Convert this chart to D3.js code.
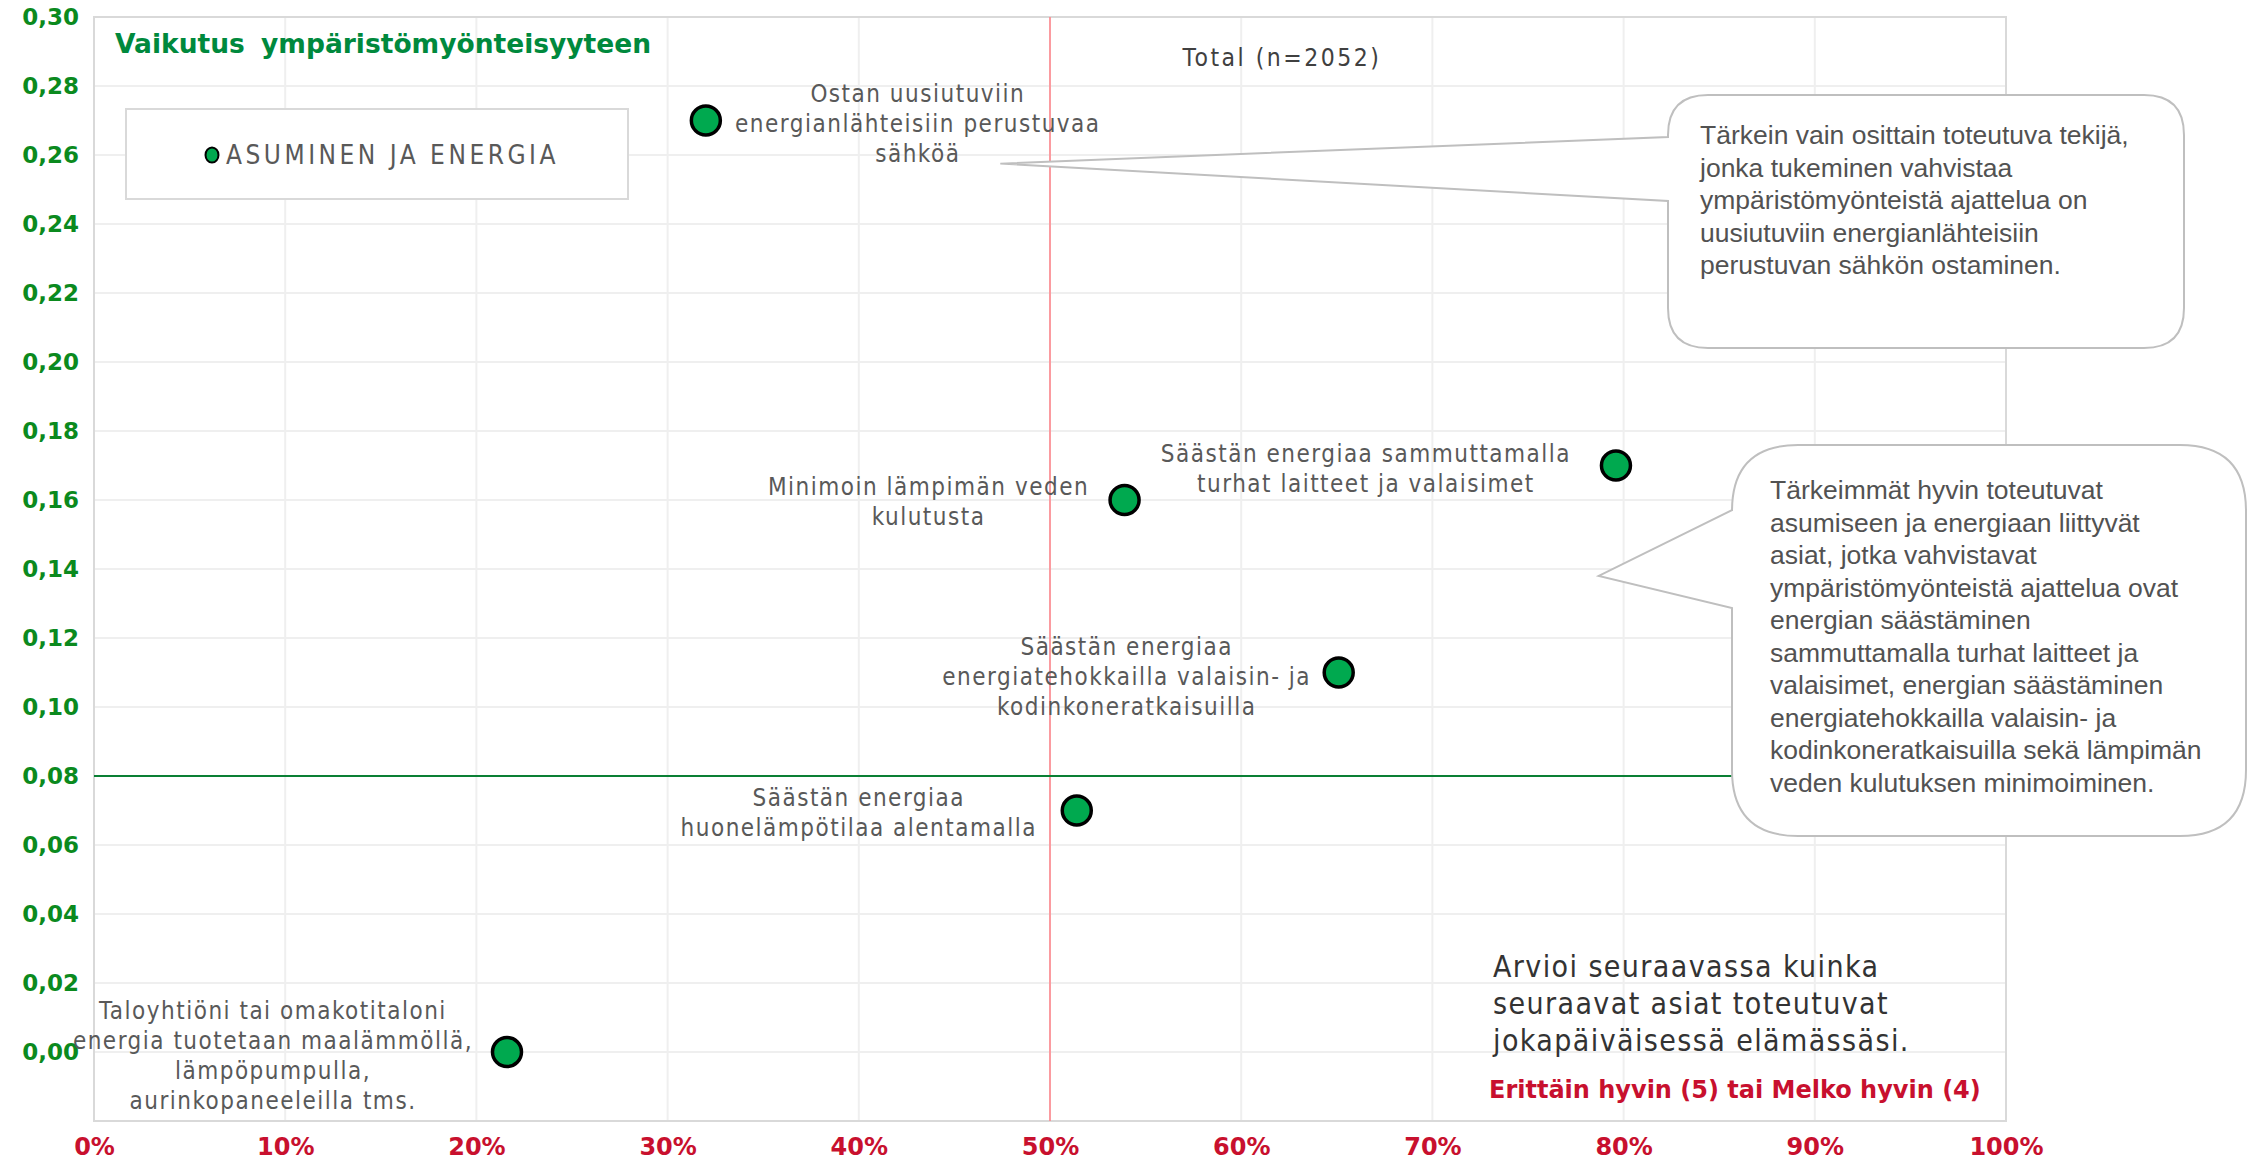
<!DOCTYPE html>
<html>
<head>
<meta charset="utf-8">
<script src="https://cdn.jsdelivr.net/npm/d3@7"></script>
<style>
  body { margin: 0; background: #fff; }
  svg { display: block; }
</style>
</head>
<body>
<div id="chart"></div>
<script>
// data
const itemLabels = [
  ["Ostan uusiutuviin", "energianlähteisiin perustuvaa", "sähköä"],
  ["Säästän energiaa sammuttamalla", "turhat laitteet ja valaisimet"],
  ["Minimoin lämpimän veden", "kulutusta"],
  ["Säästän energiaa", "energiatehokkailla valaisin- ja", "kodinkoneratkaisuilla"],
  ["Säästän energiaa", "huonelämpötilaa alentamalla"],
  ["Taloyhtiöni tai omakotitaloni", "energia tuotetaan maalämmöllä,", "lämpöpumpulla,", "aurinkopaneeleilla tms."]
]
const toteutuu = [0.32, 0.796, 0.539, 0.651, 0.514, 0.216]
const vaikutus = [0.27, 0.17, 0.16, 0.11, 0.07, 0.00]

const xTicks = [0, 0.1, 0.2, 0.3, 0.4, 0.5, 0.6, 0.7, 0.8, 0.9, 1]
const xTickLabels = ["0%", "10%", "20%", "30%", "40%", "50%", "60%", "70%", "80%", "90%", "100%"]
const yTicks = [0.30, 0.28, 0.26, 0.24, 0.22, 0.20, 0.18, 0.16, 0.14, 0.12, 0.10, 0.08, 0.06, 0.04, 0.02, 0.00]
const yTickLabels = ["0,30", "0,28", "0,26", "0,24", "0,22", "0,20", "0,18", "0,16", "0,14", "0,12", "0,10", "0,08", "0,06", "0,04", "0,02", "0,00"]

const xRef = 0.5
const yRef = 0.08

const chartTitle = "Vaikutus ympäristömyönteisyyteen"
const sampleText = "Total (n=2052)"
const legendName = "ASUMINEN JA ENERGIA"
const questionLines = ["Arvioi seuraavassa kuinka", "seuraavat asiat toteutuvat", "jokapäiväisessä elämässäsi."]
const scaleText = "Erittäin hyvin (5) tai Melko hyvin (4)"

const callout1Lines = [
  "Tärkein vain osittain toteutuva tekijä,",
  "jonka tukeminen vahvistaa",
  "ympäristömyönteistä ajattelua on",
  "uusiutuviin energianlähteisiin",
  "perustuvan sähkön ostaminen."
]
const callout2Lines = [
  "Tärkeimmät hyvin toteutuvat",
  "asumiseen ja energiaan liittyvät",
  "asiat, jotka vahvistavat",
  "ympäristömyönteistä ajattelua ovat",
  "energian säästäminen",
  "sammuttamalla turhat laitteet ja",
  "valaisimet, energian säästäminen",
  "energiatehokkailla valaisin- ja",
  "kodinkoneratkaisuilla sekä lämpimän",
  "veden kulutuksen minimoiminen."
]

// label placement relative to each point (pixels)
const labelOffsets = [
  { dx: 212, dy: -27 },
  { dx: -250, dy: -12 },
  { dx: -196, dy: -13 },
  { dx: -212, dy: -26 },
  { dx: -218, dy: -13 },
  { dx: -234, dy: -41 }
]

const width = 2248
const height = 1162
const margin = { top: 17, right: 242, bottom: 41, left: 94 }

const labelFont = "'Liberation Sans Narrow', 'DejaVu Sans Condensed', sans-serif"
const boldFont = "'DejaVu Sans', Verdana, sans-serif"
const calloutFont = "'Liberation Sans', Arial, sans-serif"

const svg = d3.select("#chart")
  .append("svg")
  .attr("width", width)
  .attr("height", height)

const x = d3.scaleLinear()
  .domain([0, 1])
  .range([margin.left, width - margin.right])

const y = d3.scaleLinear()
  .domain([-0.02, 0.30])
  .range([height - margin.bottom, margin.top])

// grid
svg.append("g")
  .selectAll("line")
  .data(yTicks)
  .join("line")
    .attr("x1", x(0))
    .attr("x2", x(1))
    .attr("y1", d => y(d))
    .attr("y2", d => y(d))
    .attr("stroke", "#efefef")
    .attr("stroke-width", 2)

svg.append("g")
  .selectAll("line")
  .data(xTicks)
  .join("line")
    .attr("x1", d => x(d))
    .attr("x2", d => x(d))
    .attr("y1", y(-0.02))
    .attr("y2", y(0.30))
    .attr("stroke", "#efefef")
    .attr("stroke-width", 2)

// plot frame
svg.append("rect")
  .attr("x", x(0))
  .attr("y", y(0.30))
  .attr("width", x(1) - x(0))
  .attr("height", y(-0.02) - y(0.30))
  .attr("fill", "none")
  .attr("stroke", "#d9d9d9")
  .attr("stroke-width", 2)

// y axis labels
const yAxis = d3.axisLeft(y)
  .tickValues(yTicks)
  .tickFormat((d, i) => yTickLabels[i])
  .tickSize(0)
  .tickPadding(15)

svg.append("g")
  .attr("transform", `translate(${x(0)},0)`)
  .call(yAxis)
  .call(g => g.select(".domain").remove())
  .selectAll("text")
    .attr("fill", "#0b8a1e")
    .style("font-family", boldFont)
    .style("font-weight", "bold")
    .style("font-size", "23px")

// x axis labels
const xAxis = d3.axisBottom(x)
  .tickValues(xTicks)
  .tickFormat((d, i) => xTickLabels[i])
  .tickSize(0)
  .tickPadding(17)

svg.append("g")
  .attr("transform", `translate(0,${y(-0.02)})`)
  .call(xAxis)
  .call(g => g.select(".domain").remove())
  .selectAll("text")
    .attr("fill", "#c8102e")
    .style("font-family", boldFont)
    .style("font-weight", "bold")
    .style("font-size", "24px")

// reference lines
svg.append("line")
  .attr("x1", x(xRef)).attr("x2", x(xRef))
  .attr("y1", y(-0.02)).attr("y2", y(0.30))
  .attr("stroke", "#ff7f86")
  .attr("stroke-width", 1.5)

svg.append("line")
  .attr("x1", x(0)).attr("x2", x(1))
  .attr("y1", y(yRef)).attr("y2", y(yRef))
  .attr("stroke", "#0a7f34")
  .attr("stroke-width", 2)

// title and sample size
svg.append("text")
  .attr("x", 115)
  .attr("y", 43)
  .attr("dominant-baseline", "central")
  .attr("fill", "#00893d")
  .style("font-family", boldFont)
  .style("font-weight", "bold")
  .style("font-size", "26.5px")
  .style("word-spacing", "7px")
  .text(chartTitle)

svg.append("text")
  .attr("x", 1282)
  .attr("y", 57)
  .attr("text-anchor", "middle")
  .attr("dominant-baseline", "central")
  .attr("fill", "#404040")
  .style("font-family", labelFont)
  .style("font-size", "24.5px")
  .style("letter-spacing", "2.5px")
  .text(sampleText)

// legend
const legend = svg.append("g")
legend.append("rect")
  .attr("x", 126).attr("y", 109)
  .attr("width", 502).attr("height", 90)
  .attr("fill", "#fff")
  .attr("stroke", "#d9d9d9")
  .attr("stroke-width", 2)
legend.append("ellipse")
  .attr("cx", 212).attr("cy", 155)
  .attr("rx", 6.5).attr("ry", 7.5)
  .attr("fill", "#00a94f")
  .attr("stroke", "#000")
  .attr("stroke-width", 2)
legend.append("text")
  .attr("x", 226).attr("y", 155)
  .attr("dominant-baseline", "central")
  .attr("fill", "#595959")
  .style("font-family", labelFont)
  .style("font-size", "26px")
  .style("letter-spacing", "3.5px")
  .text(legendName)

// callouts: rounded box with a pointer on the left side
function calloutPath(x0, y0, x1, y1, r, tipX, tipY, b0, b1) {
  return `M${x0 + r},${y0} L${x1 - r},${y0} Q${x1},${y0} ${x1},${y0 + r}` +
    ` L${x1},${y1 - r} Q${x1},${y1} ${x1 - r},${y1}` +
    ` L${x0 + r},${y1} Q${x0},${y1} ${x0},${y1 - r}` +
    ` L${x0},${b1} L${tipX},${tipY} L${x0},${b0}` +
    ` L${x0},${y0 + r} Q${x0},${y0} ${x0 + r},${y0} Z`
}

const callouts = [
  { box: [1668, 95, 2184, 348], r: 40, tip: [0.474, 0.2575], base: [137, 201], text: callout1Lines, tx: 1700, ty: 135 },
  { box: [1732, 445, 2246, 836], r: 66, tip: [0.787, 0.138], base: [510, 608], text: callout2Lines, tx: 1770, ty: 490 }
]

callouts.forEach(c => {
  const [x0, y0, x1, y1] = c.box
  svg.append("path")
    .attr("d", calloutPath(x0, y0, x1, y1, c.r, x(c.tip[0]), y(c.tip[1]), c.base[0], c.base[1]))
    .attr("fill", "#fff")
    .attr("stroke", "#bfbfbf")
    .attr("stroke-width", 2)
  svg.append("g")
    .selectAll("text")
    .data(c.text)
    .join("text")
      .attr("x", c.tx)
      .attr("y", (d, i) => c.ty + i * 32.5)
      .attr("dominant-baseline", "central")
      .attr("fill", "#525252")
      .style("font-family", calloutFont)
      .style("font-size", "26.5px")
      .text(d => d)
})

// question text bottom right
svg.append("g")
  .selectAll("text")
  .data(questionLines)
  .join("text")
    .attr("x", 1493)
    .attr("y", (d, i) => 966 + i * 37)
    .attr("dominant-baseline", "central")
    .attr("fill", "#333")
    .style("font-family", labelFont)
    .style("font-size", "30px")
    .style("letter-spacing", "1.4px")
    .text(d => d)

svg.append("text")
  .attr("x", 1489)
  .attr("y", 1090)
  .attr("dominant-baseline", "central")
  .attr("fill", "#c8102e")
  .style("font-family", boldFont)
  .style("font-weight", "bold")
  .style("font-size", "24px")
  .text(scaleText)

// points
const points = toteutuu.map((v, i) => ({ x: v, y: vaikutus[i], lines: itemLabels[i], off: labelOffsets[i] }))

svg.append("g")
  .selectAll("circle")
  .data(points)
  .join("circle")
    .attr("cx", d => x(d.x))
    .attr("cy", d => y(d.y))
    .attr("r", 14.5)
    .attr("fill", "#00a94f")
    .attr("stroke", "#000")
    .attr("stroke-width", 3.5)

// point labels
svg.append("g")
  .selectAll("g")
  .data(points)
  .join("g")
  .selectAll("text")
  .data(d => d.lines.map((line, i) => ({ line, i, p: d })))
  .join("text")
    .attr("x", d => x(d.p.x) + d.p.off.dx)
    .attr("y", d => y(d.p.y) + d.p.off.dy + d.i * 30)
    .attr("text-anchor", "middle")
    .attr("dominant-baseline", "central")
    .attr("fill", "#595959")
    .style("font-family", labelFont)
    .style("font-size", "24px")
    .style("letter-spacing", "1.5px")
    .text(d => d.line)
</script>
</body>
</html>
